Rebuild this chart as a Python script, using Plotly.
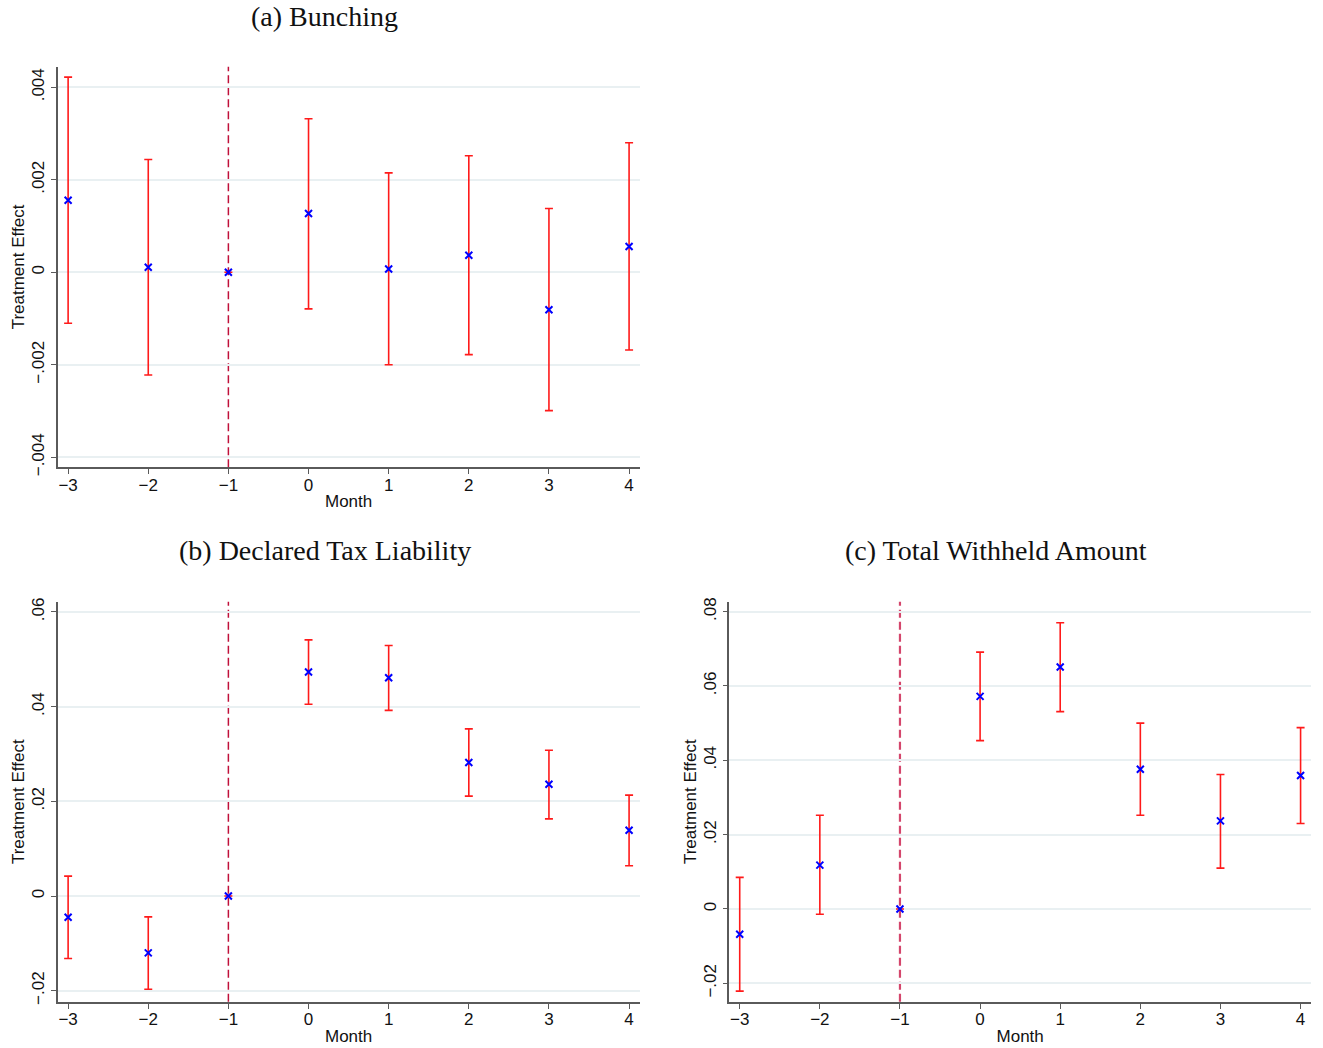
import plotly.graph_objects as go

# Event-study estimates by month relative to the reform (reference month = -1)
months = [-3, -2, -1, 0, 1, 2, 3, 4]
month_labels = ["\u22123", "\u22122", "\u22121", "0", "1", "2", "3", "4"]

# (a) Bunching
bunching_coef = [0.00156, 0.00011, 0.0, 0.00127, 0.00007, 0.00037, -0.00081, 0.00056]
bunching_hi = [0.00422, 0.00244, 0.0, 0.00332, 0.00215, 0.00252, 0.00138, 0.00280]
bunching_lo = [-0.00110, -0.00222, 0.0, -0.00079, -0.00200, -0.00178, -0.00299, -0.00168]

# (b) Declared tax liability
tax_coef = [-0.0045, -0.0120, 0.0, 0.0473, 0.0461, 0.0282, 0.0236, 0.0139]
tax_hi = [0.0042, -0.0044, 0.0, 0.0541, 0.0529, 0.0353, 0.0308, 0.0213]
tax_lo = [-0.0132, -0.0197, 0.0, 0.0405, 0.0392, 0.0211, 0.0163, 0.0064]

# (c) Total withheld amount
withheld_coef = [-0.0068, 0.0118, 0.0, 0.0572, 0.0651, 0.0376, 0.0237, 0.0359]
withheld_hi = [0.0085, 0.0252, 0.0, 0.0691, 0.0770, 0.0500, 0.0362, 0.0488]
withheld_lo = [-0.0221, -0.0014, 0.0, 0.0453, 0.0531, 0.0252, 0.0110, 0.0230]

# y tick values and labels per panel
a_ticks = [-0.004, -0.002, 0, 0.002, 0.004]
a_ticktext = ["\u2212.004", "\u2212.002", "0", ".002", ".004"]
b_ticks = [-0.02, 0, 0.02, 0.04, 0.06]
b_ticktext = ["\u2212.02", "0", ".02", ".04", ".06"]
c_ticks = [-0.02, 0, 0.02, 0.04, 0.06, 0.08]
c_ticktext = ["\u2212.02", "0", ".02", ".04", ".06", ".08"]

titles = ["(a) Bunching", "(b) Declared Tax Liability", "(c) Total Withheld Amount"]

W, H = 1323, 1048
LEFT_DOM = [57.7 / W, 639.5 / W]
RIGHT_DOM = [729.3 / W, 1311 / W]
TOP_DOM = [1 - 467.3 / H, 1 - 66.7 / H]
BOT_DOM = [1 - 1001.7 / H, 1 - 601.7 / H]

SANS = "Liberation Sans, Arial, Helvetica, sans-serif"
SERIF = "Liberation Serif, Times New Roman, serif"
AXIS_COL = "#5a5a5a"
GRID_COL = "#e9f0f2"
TXT = "#111111"

panels = [
    dict(coef=bunching_coef, hi=bunching_hi, lo=bunching_lo, xdom=LEFT_DOM, ydom=TOP_DOM,
         yrange=[-0.004216, 0.004446], ticks=a_ticks, ticktext=a_ticktext,
         vcolor="#c0103a", vwidth=1.5),
    dict(coef=tax_coef, hi=tax_hi, lo=tax_lo, xdom=LEFT_DOM, ydom=BOT_DOM,
         yrange=[-0.02232, 0.06216], ticks=b_ticks, ticktext=b_ticktext,
         vcolor="#c0103a", vwidth=1.5),
    dict(coef=withheld_coef, hi=withheld_hi, lo=withheld_lo, xdom=RIGHT_DOM, ydom=BOT_DOM,
         yrange=[-0.02494, 0.08267], ticks=c_ticks, ticktext=c_ticktext,
         vcolor="#d4466c", vwidth=2.2),
]

fig = go.Figure()
layout = dict(
    width=W, height=H,
    margin=dict(l=0, r=0, t=0, b=0, pad=0, autoexpand=False),
    paper_bgcolor="white", plot_bgcolor="white",
    showlegend=False,
    shapes=[], annotations=[],
)

for i, p in enumerate(panels, start=1):
    xa = "x" if i == 1 else f"x{i}"
    ya = "y" if i == 1 else f"y{i}"
    err_plus = [h - c for h, c in zip(p["hi"], p["coef"])]
    err_minus = [c - l for c, l in zip(p["coef"], p["lo"])]
    fig.add_trace(go.Scatter(
        x=months, y=p["coef"], mode="markers", xaxis=xa, yaxis=ya,
        marker=dict(symbol="x-thin", size=7, color="#0000ff",
                    line=dict(color="#0000ff", width=2)),
        error_y=dict(type="data", symmetric=False, array=err_plus, arrayminus=err_minus,
                     color="#ff1a1a", thickness=1.6, width=4),
    ))

    layout[f"xaxis{'' if i == 1 else i}"] = dict(
        domain=p["xdom"], anchor=ya, range=[-3.13, 4.13], automargin=False,
        tickmode="array", tickvals=months, ticktext=month_labels,
        ticks="outside", ticklen=5, tickwidth=1.4, tickcolor=AXIS_COL,
        ticklabelstandoff=-4,
        showline=True, linecolor=AXIS_COL, linewidth=1.6,
        showgrid=False, zeroline=False,
        tickfont=dict(family=SANS, size=17, color=TXT),
        title=dict(text="Month", font=dict(family=SANS, size=17, color=TXT), standoff=2),
    )
    layout[f"yaxis{'' if i == 1 else i}"] = dict(
        domain=p["ydom"], anchor=xa, range=p["yrange"], automargin=False,
        tickmode="array", tickvals=p["ticks"], ticktext=p["ticktext"], tickangle=-90,
        ticks="outside", ticklen=5, tickwidth=1.4, tickcolor=AXIS_COL,
        showline=True, linecolor=AXIS_COL, linewidth=1.6,
        showgrid=True, gridcolor=GRID_COL, gridwidth=1.5, zeroline=False,
        tickfont=dict(family=SANS, size=17, color=TXT),
        title=dict(text="Treatment Effect", font=dict(family=SANS, size=17, color=TXT),
                   standoff=0),
    )

    # horizontal reference line at zero
    layout["shapes"].append(dict(
        type="line", xref=f"{xa} domain", yref=ya, x0=0, x1=1, y0=0, y1=0,
        line=dict(color="#7f7f7f", width=1.6), layer="below",
    ))
    # dashed vertical line at the reference month
    layout["shapes"].append(dict(
        type="line", xref=xa, yref=f"{ya} domain", x0=-1, x1=-1, y0=0, y1=1,
        line=dict(color=p["vcolor"], width=p["vwidth"], dash="8px,4px"), layer="below",
    ))

    # panel title
    cx = (p["xdom"][0] + p["xdom"][1]) / 2 - 0.018
    ty = 1 - 17 / H if p["ydom"] is TOP_DOM else 1 - 550 / H
    layout["annotations"].append(dict(
        text=titles[i - 1], xref="paper", yref="paper", x=cx, y=ty,
        xanchor="center", yanchor="middle", showarrow=False,
        font=dict(family=SERIF, size=28, color=TXT),
    ))

fig.update_layout(**layout)
fig.write_html("out.html")
